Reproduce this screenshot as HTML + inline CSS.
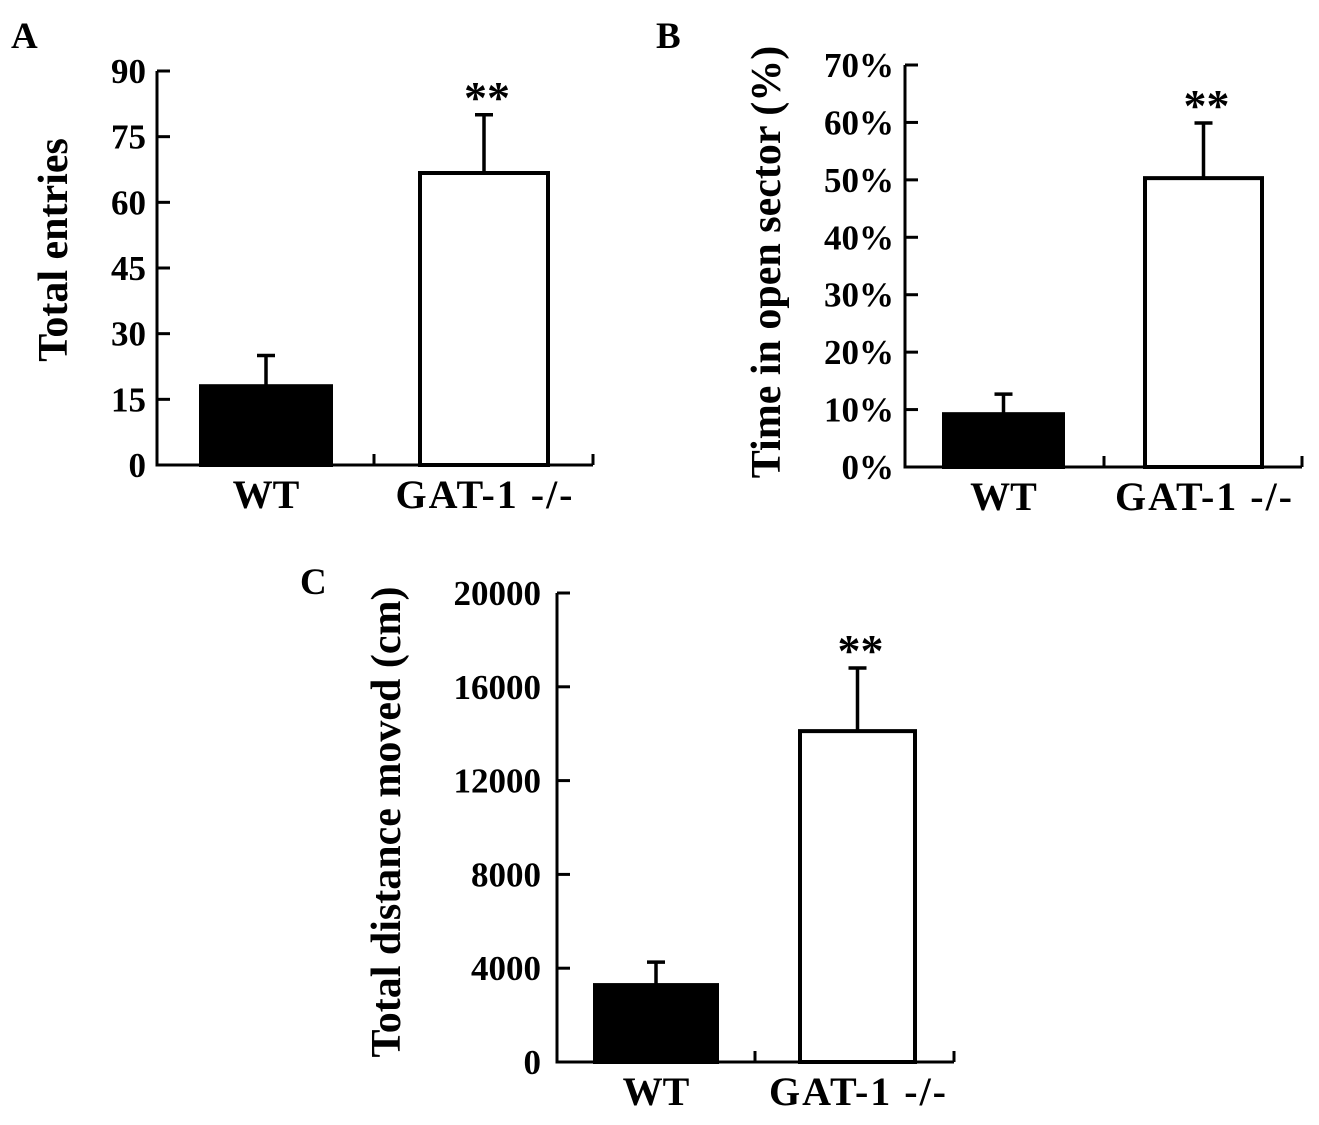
<!DOCTYPE html>
<html><head><meta charset="utf-8"><style>
html,body{margin:0;padding:0;background:#fff;}
svg text{font-family:"Liberation Serif","Times New Roman",serif;font-weight:bold;fill:#000;}
</style></head><body>
<svg id="fig" width="1319" height="1120" viewBox="0 0 1319 1120" xmlns="http://www.w3.org/2000/svg"></svg>
<script>
const categories = ["WT", "GAT-1 -/-"];
const entriesValues = [18, 66.7];
const entriesErrors = [25, 80];
const entriesTicks = ["0","15","30","45","60","75","90"];
const timeValues = [9.2, 50.3];
const timeErrors = [12.7, 59.9];
const timeTicks = ["0%","10%","20%","30%","40%","50%","60%","70%"];
const distValues = [3280, 14110];
const distErrors = [4260, 16800];
const distTicks = ["0","4000","8000","12000","16000","20000"];

const NS = "http://www.w3.org/2000/svg";
const svg = document.getElementById('fig');
function mk(tag, attrs, parent){
  const e = document.createElementNS(NS, tag);
  for (const k in attrs) e.setAttribute(k, attrs[k]);
  (parent||svg).appendChild(e);
  return e;
}
function panel(cfg){
  const g = mk('g', {});
  
  
  const y = v => cfg.y0 - (v - cfg.min) / (cfg.max - cfg.min) * (cfg.y0 - cfg.yTop);
  const L = mk('text', {x: cfg.letterX, y: cfg.letterY, 'font-size': 37}, g);
  L.textContent = cfg.letter;
  
  
  const ax = mk('path', {d: `M${cfg.ax},${cfg.yTop} L${cfg.ax},${cfg.y0} L${cfg.xEnd},${cfg.y0} M${cfg.xMid},${cfg.y0} L${cfg.xMid},${cfg.y0-11} M${cfg.xEnd},${cfg.y0} L${cfg.xEnd},${cfg.y0-11}`, stroke: '#000', 'stroke-width': 3, fill: 'none'}, g);
  
  
  cfg.ticks.forEach((t, i) => {
    const v = cfg.min + i * (cfg.max - cfg.min) / (cfg.ticks.length - 1);
    const yy = y(v);
    const tk = mk('line', {x1: cfg.ax, x2: cfg.ax + 13, y1: yy, y2: yy, stroke: '#000', 'stroke-width': 3}, g);
    
    
    const tl = mk('text', {x: cfg.labelRight, y: yy + 12, 'font-size': 35, 'text-anchor': 'end'}, g);
    tl.textContent = t;
    
    
  });
  const tt = mk('text', {x: 0, y: 0, 'font-size': 42, 'text-anchor': 'middle', transform: `translate(${cfg.titleX},${cfg.titleY}) rotate(-90)`}, g);
  tt.textContent = cfg.title;
  
  
  categories.forEach((c, i) => {
    const [x1, x2] = cfg.bars[i];
    const top = y(cfg.values[i]);
    const et = y(cfg.errors[i]);
    const cx = (x1 + x2) / 2;
    const eb = mk('path', {d: `M${cx},${top} L${cx},${et} M${cx-9},${et} L${cx+9},${et}`, stroke: '#000', 'stroke-width': 3.5, fill: 'none'}, g);
    
    
    const r = mk('rect', {x: x1, y: top, width: x2 - x1, height: cfg.y0 - top, fill: i === 0 ? '#000' : '#fff', stroke: '#000', 'stroke-width': 4}, g);
    
    
    const xa = {x: cx, y: cfg.y0 + 43, 'font-size': 40, 'text-anchor': 'middle'};
    if (i === 1) { xa.textLength = 177; xa.lengthAdjust = 'spacing'; }
    const xl = mk('text', xa, g);
    xl.textContent = c;
    
    
    if (i === 1) {
      const st = mk('text', {x: cx + 3, y: et - 2, 'font-size': 46, 'text-anchor': 'middle'}, g);
      st.textContent = '**';
      
      
    }
  });
}
panel({name:'panel-a', letter:'A', letterX:11, letterY:48, ax:157, yTop:71, y0:465, xEnd:593, xMid:374, min:0, max:90,
  ticks:entriesTicks, values:entriesValues, errors:entriesErrors, labelRight:146, title:'Total entries', titleX:67, titleY:250,
  bars:[[201,331],[420,548]]});
panel({name:'panel-b', letter:'B', letterX:656, letterY:48, ax:905, yTop:65, y0:467, xEnd:1302, xMid:1104, min:0, max:70,
  ticks:timeTicks, values:timeValues, errors:timeErrors, labelRight:894, title:'Time in open sector (%)', titleX:780, titleY:262,
  bars:[[944,1063],[1145,1262]]});
panel({name:'panel-c', letter:'C', letterX:300, letterY:594, ax:557, yTop:593, y0:1062, xEnd:954, xMid:755, min:0, max:20000,
  ticks:distTicks, values:distValues, errors:distErrors, labelRight:541, title:'Total distance moved (cm)', titleX:400, titleY:822,
  bars:[[595,717],[800,915]]});
</script>
</body></html>
